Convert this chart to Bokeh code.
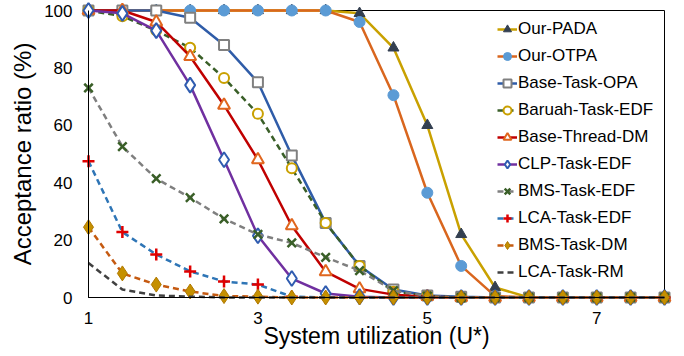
from bokeh.plotting import figure
from bokeh.models import Range1d, FixedTicker
from bokeh.embed import file_html
from bokeh.resources import INLINE

x_util = [1.0, 1.4, 1.8, 2.2, 2.6, 3.0, 3.4, 3.8, 4.2, 4.6, 5.0, 5.4, 5.8, 6.2, 6.6, 7.0, 7.4, 7.8]

our_pada = [100, 100, 100, 100, 100, 100, 100, 100, 99, 87, 60, 22, 3.5, 0, 0, 0, 0, 0]
our_otpa = [100, 100, 100, 100, 100, 100, 100, 100, 96, 70.5, 36.5, 11, 0.5, 0, 0, 0, 0, 0]
base_task_opa = [100, 100, 100, 97.5, 88, 75, 49.5, 26, 11, 2.8, 0.7, 0.3, 0, 0, 0, 0, 0, 0]
baruah_task_edf = [100, 98, 93, 87, 76.5, 64, 45, 26, 11, 2, 0.5, 0, 0, 0, 0, 0, 0, 0]
base_thread_dm = [100, 100, 96, 84, 67, 48, 25, 9, 3, 1, 0.3, 0, 0, 0, 0, 0, 0, 0]
clp_task_edf = [100, 99, 93, 74, 48, 21.5, 6.6, 1.4, 0.3, 0, 0, 0, 0, 0, 0, 0, 0, 0]
bms_task_edf = [73, 52.6, 41.4, 34.8, 27.4, 22, 19, 14, 9.4, 2.4, 0.5, 0, 0, 0, 0, 0, 0, 0]
lca_task_edf = [47.5, 22.8, 15, 9.1, 5.6, 4.5, 0.3, 0, 0, 0, 0, 0, 0, 0, 0, 0, 0, 0]
bms_task_dm = [24.5, 8.4, 4.5, 2.1, 0.5, 0.3, 0, 0, 0, 0, 0, 0, 0, 0, 0, 0, 0, 0]
lca_task_rm = [12, 2.8, 0.7, 0.3, 0, 0, 0, 0, 0, 0, 0, 0, 0, 0, 0, 0, 0, 0]

x_ticks = [1, 3, 5, 7]
y_ticks = [0, 20, 40, 60, 80, 100]

FONT = "Liberation Sans"

p = figure(width=684, height=356, x_range=Range1d(1, 7.8), y_range=Range1d(0, 100),
           output_backend="svg", toolbar_location=None,
           min_border_left=88, min_border_right=20, min_border_top=10, min_border_bottom=59)
p.xgrid.visible = False
p.ygrid.visible = False
p.outline_line_color = "black"
p.outline_line_width = 1
p.background_fill_color = "white"
p.border_fill_color = "white"

for ax in (p.xaxis[0], p.yaxis[0]):
    ax.major_tick_out = 0
    ax.major_tick_in = 0
    ax.minor_tick_out = 0
    ax.minor_tick_in = 0
    ax.axis_line_color = "black"
    ax.axis_line_width = 1
    ax.major_label_text_font = FONT
    ax.major_label_text_font_size = "17px"
    ax.major_label_text_color = "black"
    ax.axis_label_text_font = FONT
    ax.axis_label_text_font_style = "normal"
    ax.axis_label_text_color = "black"

p.xaxis.ticker = FixedTicker(ticks=x_ticks)
p.yaxis.ticker = FixedTicker(ticks=y_ticks)
p.xaxis.axis_label = "System utilization (U*)"
p.yaxis.axis_label = "Acceptance ratio (%)"
p.xaxis.axis_label_text_font_size = "23px"
p.yaxis.axis_label_text_font_size = "24px"
p.xaxis.major_label_standoff = 14
p.yaxis.major_label_standoff = 16
p.xaxis.axis_label_standoff = -4
p.yaxis.axis_label_standoff = 5

series = [
    ("Our-PADA", our_pada, "#C9A100", "solid", dict(marker="triangle", size=11, fill_color="#333F50", line_color="#333F50", line_width=1)),
    ("Our-OTPA", our_otpa, "#D9661E", "solid", dict(marker="circle", size=11, fill_color="#5B9BD5", line_color="#5B9BD5", line_width=1)),
    ("Base-Task-OPA", base_task_opa, "#2F5CA8", "solid", dict(marker="square", size=10, fill_color="white", line_color="#808080", line_width=2)),
    ("Baruah-Task-EDF", baruah_task_edf, "#3A5F28", "6 4", dict(marker="circle", size=10, fill_color="white", line_color="#C9A000", line_width=2)),
    ("Base-Thread-DM", base_thread_dm, "#C00000", "solid", dict(marker="triangle", size=12, fill_color="white", line_color="#E0661E", line_width=2)),
    ("CLP-Task-EDF", clp_task_edf, "#7030A0", "solid", dict(marker="diamond", size=15, fill_color="white", line_color="#2F5CB0", line_width=2)),
    ("BMS-Task-EDF", bms_task_edf, "#7F7F7F", "6 4", dict(marker="x", size=12, fill_color=None, line_color="#3A5F28", line_width=2.5)),
    ("LCA-Task-EDF", lca_task_edf, "#2E75B6", "6 4", dict(marker="cross", size=12, fill_color=None, line_color="#E00000", line_width=2.5)),
    ("BMS-Task-DM", bms_task_dm, "#C55A11", "6 4", dict(marker="diamond", size=15, fill_color="#C59000", line_color="#B07800", line_width=1)),
    ("LCA-Task-RM", lca_task_rm, "#404040", "6 4", None),
]

for name, ys, lc, dash, mk in series:
    p.line(x_util, ys, line_color=lc, line_width=2.5, line_dash=dash, legend_label=name, level="guide")
    if mk is not None:
        p.scatter(x_util, ys, legend_label=name, level="guide", **mk)

lg = p.legend[0]
lg.location = (409, 15)
lg.background_fill_alpha = 0
lg.border_line_color = None
lg.label_text_font = FONT
lg.label_text_font_size = "17px"
lg.label_text_color = "black"
lg.glyph_width = 20
lg.glyph_height = 20
lg.label_height = 20
lg.spacing = 7
lg.padding = 4
lg.margin = 0
lg.label_standoff = 1

open("out.html", "w").write(file_html(p, INLINE))
